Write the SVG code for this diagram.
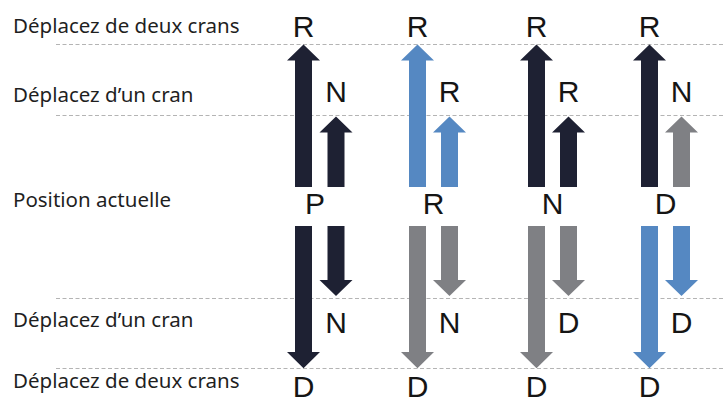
<svg xmlns="http://www.w3.org/2000/svg" xmlns:xlink="http://www.w3.org/1999/xlink" width="724" height="403" viewBox="0 0 724 403">
<style>
.row{font-family:"Noto Sans","Liberation Sans",sans-serif;font-size:20.5px;fill:#1f1f1f}
.pos{font-family:"Liberation Sans",Arial,sans-serif;font-size:30px;fill:#151515;text-anchor:middle}
.dash{stroke:#b4b4b4;stroke-width:1;stroke-dasharray:4 2.5;fill:none}
.navy{fill:#1e2133}
.blue{fill:#5588c2}
.gray{fill:#7f8084}
</style>
<defs>
<path id="upBig" d="M-8.5,187 V60.5 H-16.5 L0,44.5 L16.5,60.5 H8.5 V187 Z"/>
<path id="upSmall" d="M-8.5,187 V132.5 H-16.5 L0,116.5 L16.5,132.5 H8.5 V187 Z"/>
<path id="downBig" d="M-8.5,226 V352 H-16.5 L0,368.3 L16.5,352 H8.5 V226 Z"/>
<path id="downSmall" d="M-8.5,226 V280 H-16.5 L0,296 L16.5,280 H8.5 V226 Z"/>
</defs>
<rect width="724" height="403" fill="#fff"/>
<g id="gridlines">
<line class="dash" x1="56" y1="44.5" x2="724" y2="44.5"/>
<line class="dash" x1="56" y1="115.5" x2="724" y2="115.5"/>
<line class="dash" x1="56" y1="298.5" x2="724" y2="298.5"/>
<line class="dash" x1="56" y1="368.5" x2="724" y2="368.5"/>
</g>
<g id="row-labels">
<text class="row" x="13" y="33">Déplacez de deux crans</text>
<text class="row" x="13" y="102">Déplacez d’un cran</text>
<text class="row" x="13" y="207">Position actuelle</text>
<text class="row" x="13" y="327">Déplacez d’un cran</text>
<text class="row" x="13" y="388">Déplacez de deux crans</text>
</g>
<g id="connectors">
<use xlink:href="#upBig" x="303.5" class="navy"/>
<use xlink:href="#upSmall" x="336" class="navy"/>
<use xlink:href="#downBig" x="303.5" class="navy"/>
<use xlink:href="#downSmall" x="336" class="navy"/>
<use xlink:href="#upBig" x="417.5" class="blue"/>
<use xlink:href="#upSmall" x="449.5" class="blue"/>
<use xlink:href="#downBig" x="417.5" class="gray"/>
<use xlink:href="#downSmall" x="449.5" class="gray"/>
<use xlink:href="#upBig" x="536.5" class="navy"/>
<use xlink:href="#upSmall" x="568.5" class="navy"/>
<use xlink:href="#downBig" x="536.5" class="gray"/>
<use xlink:href="#downSmall" x="568.5" class="gray"/>
<use xlink:href="#upBig" x="649.5" class="navy"/>
<use xlink:href="#upSmall" x="681.5" class="gray"/>
<use xlink:href="#downBig" x="649.5" class="blue"/>
<use xlink:href="#downSmall" x="681.5" class="blue"/>
</g>
<g id="col-P">
<text class="pos" x="303.5" y="37">R</text>
<text class="pos" x="336" y="102">N</text>
<text class="pos" x="315" y="214">P</text>
<text class="pos" x="336" y="333">N</text>
<text class="pos" x="303.5" y="397">D</text>
</g>
<g id="col-R">
<text class="pos" x="417.5" y="37">R</text>
<text class="pos" x="449.5" y="102">R</text>
<text class="pos" x="433.5" y="214">R</text>
<text class="pos" x="449.5" y="333">N</text>
<text class="pos" x="417.5" y="397">D</text>
</g>
<g id="col-N">
<text class="pos" x="536.5" y="37">R</text>
<text class="pos" x="568.5" y="102">R</text>
<text class="pos" x="552.5" y="214">N</text>
<text class="pos" x="568.5" y="333">D</text>
<text class="pos" x="536.5" y="397">D</text>
</g>
<g id="col-D">
<text class="pos" x="649.5" y="37">R</text>
<text class="pos" x="681.5" y="102">N</text>
<text class="pos" x="665.5" y="214">D</text>
<text class="pos" x="681.5" y="333">D</text>
<text class="pos" x="649.5" y="397">D</text>
</g>
</svg>
